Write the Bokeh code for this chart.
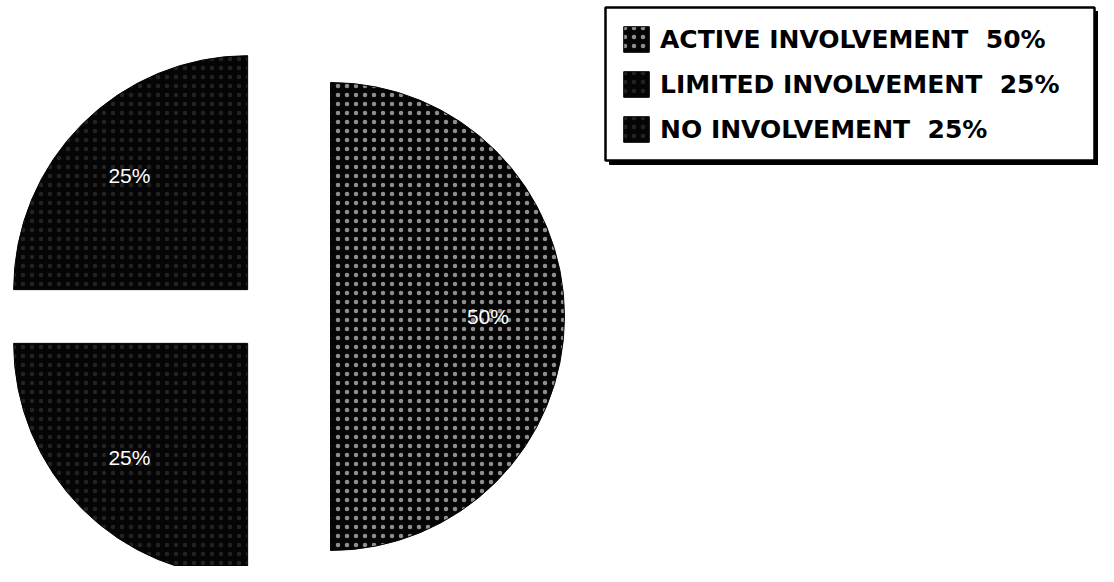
import math
from bokeh.plotting import figure
from bokeh.models import Range1d, ColumnDataSource, Legend, LegendItem
from bokeh.embed import file_html
from bokeh.resources import INLINE
from bokeh.core.properties import value

# ---- data ----
categories = ["ACTIVE INVOLVEMENT", "LIMITED INVOLVEMENT", "NO INVOLVEMENT"]
values = [50, 25, 25]
slice_labels = ["50%", "25%", "25%"]

# ---- styling / layout ----
explode = [56, 38, 38]
hatch_scales = [9, 9, 9]
hatch_alphas = [0.55, 0.12, 0.12]

W, H = 1098, 566
p = figure(width=W, height=H, x_range=Range1d(0, W), y_range=Range1d(0, H),
           output_backend="svg", toolbar_location=None,
           x_axis_location=None, y_axis_location=None, min_border=0)
p.grid.visible = False
p.outline_line_color = None
p.background_fill_color = "white"

cx, cy = 274, 250
R = 234
total = sum(values)
start = -math.pi / 2
items = []
lx, ly, lt = [], [], []
for i, (cat, v) in enumerate(zip(categories, values)):
    ang = 2 * math.pi * v / total
    end = start + ang
    mid = (start + end) / 2
    ox = cx + explode[i] * math.cos(mid)
    oy = cy + explode[i] * math.sin(mid)
    src = ColumnDataSource(dict(x=[ox], y=[oy], s=[start], e=[end]))
    r = p.wedge(x="x", y="y", radius=R, start_angle="s", end_angle="e", source=src,
                fill_color="#050505", line_color="#050505",
                hatch_pattern="dot", hatch_color="white",
                hatch_scale=hatch_scales[i], hatch_alpha=hatch_alphas[i], hatch_weight=0.5)
    items.append(LegendItem(label=f"{cat}\u00a0\u00a0{v}%", renderers=[r]))
    lx.append(ox + 0.69 * R * math.cos(mid) - 4)
    ly.append(oy + 0.69 * R * math.sin(mid))
    lt.append(slice_labels[i])
    start = end

p.text(x=lx, y=ly, text=lt, text_color="white", text_align="center",
       text_baseline="middle", text_font=value("Liberation Sans"),
       text_font_size="21px")

# legend box with shadow
p.quad(left=[609], right=[1098], top=[555], bottom=[402], fill_color="black", line_color="black")
p.quad(left=[605], right=[1094], top=[559], bottom=[406], fill_color="white",
       line_color="black", line_width=2.5)

legend = Legend(items=items, location=(610, 411), orientation="vertical",
                glyph_width=32, glyph_height=32, label_height=32, spacing=13,
                padding=10, label_standoff=8, margin=0,
                label_text_font_size="25px", label_text_font="DejaVu Sans",
                label_text_font_style="bold", label_text_color="black",
                border_line_alpha=0, background_fill_alpha=0)
p.add_layout(legend)

open("out.html", "w").write(file_html(p, INLINE))
